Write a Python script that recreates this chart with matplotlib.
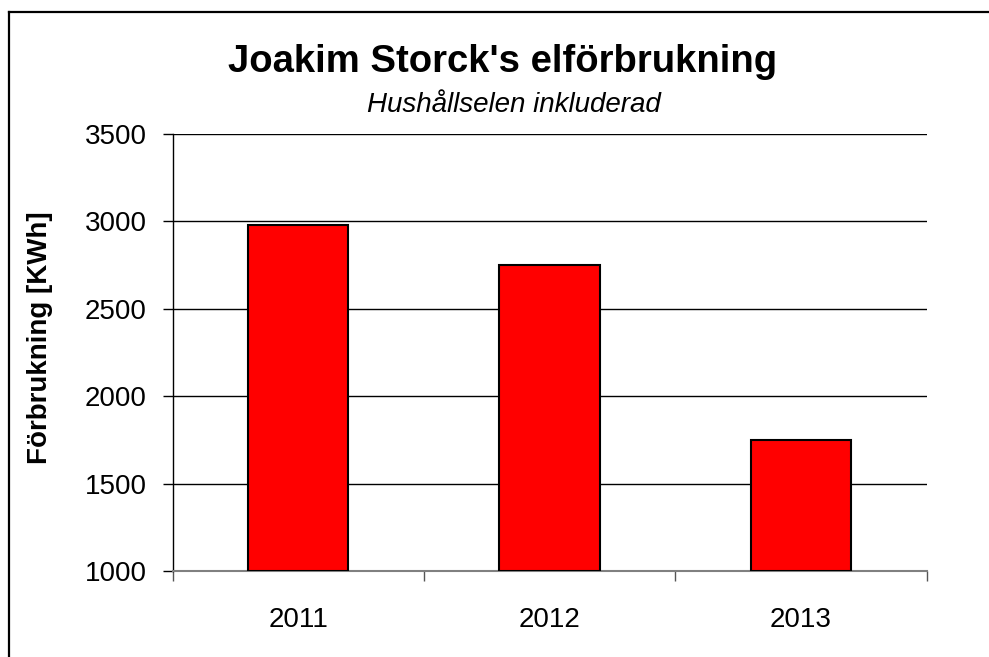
import matplotlib
matplotlib.use("Agg")
import matplotlib.pyplot as plt
from matplotlib.lines import Line2D

# Data
years = ["2011", "2012", "2013"]
usage = [2980, 2750, 1750]

plt.rcParams['font.family'] = ['Liberation Sans', 'DejaVu Sans']

W, H = 989, 657
fig = plt.figure(figsize=(W / 100, H / 100), dpi=100)
ax = fig.add_axes([172.5 / W, 1 - 571 / H, (926.7 - 172.5) / W, (571 - 133.7) / H])

x = list(range(len(years)))
ax.bar(x, [u - 1000 for u in usage], bottom=1000, width=0.4,
       color="#ff0000", edgecolor="black", linewidth=1.5, zorder=3)

ax.set_xlim(-0.5, len(years) - 0.5)
ax.set_ylim(1000, 3500)
ax.set_yticks([1000, 1500, 2000, 2500, 3000, 3500])
ax.grid(axis="y", color="black", linewidth=1, zorder=0)

# ticks on category boundaries, labels in the middle
ax.set_xticks([i - 0.5 for i in range(len(years) + 1)])
ax.set_xticklabels([])
ax.set_xticks(x, minor=True)
ax.set_xticklabels(years, minor=True)
ax.tick_params(axis="x", which="major", direction="out", length=7.5, width=1, color="#555555")
ax.tick_params(axis="x", which="minor", length=0, pad=26, labelsize=20)
ax.tick_params(axis="y", direction="out", length=7.5, width=1, pad=11, labelsize=20)

for s in ["top", "right"]:
    ax.spines[s].set_visible(False)
ax.spines["left"].set_color("black")
ax.spines["left"].set_linewidth(1)
ax.spines["bottom"].set_color("#808080")
ax.spines["bottom"].set_linewidth(1.5)

# Titles
fig.text(503 / W, 1 - 72 / H, "Joakim Storck's elförbrukning", ha="center", va="baseline",
         fontsize=27.5, fontweight="bold")
fig.text(514 / W, 1 - 111.5 / H, "Hushållselen inkluderad", ha="center", va="baseline",
         fontsize=20, fontstyle="italic")
fig.text(40 / W, 1 - 338 / H, "Förbrukning [KWh]", ha="center", va="center", rotation=90,
         fontsize=20, fontweight="bold")

# Ram runt figuren (vänster + topp syns)
fig.add_artist(Line2D([9 / W, 9 / W], [0, 1 - 12 / H], transform=fig.transFigure, color="black", linewidth=1.6))
fig.add_artist(Line2D([9 / W, 1], [1 - 12 / H, 1 - 12 / H], transform=fig.transFigure, color="black", linewidth=1.6))

fig.savefig("out.png", dpi=100)
